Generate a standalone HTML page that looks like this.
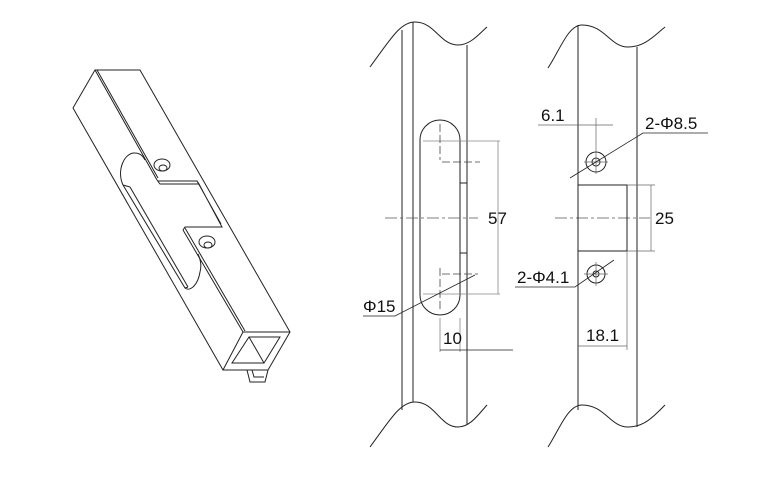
<!DOCTYPE html>
<html><head><meta charset="utf-8"><style>
html,body{margin:0;padding:0;background:#fff;}
svg{display:block}
text{font-family:"Liberation Sans",sans-serif;font-size:17px;fill:#111}
</style></head><body>
<svg width="773" height="481" viewBox="0 0 773 481" xmlns="http://www.w3.org/2000/svg">
<g fill="none" stroke="#222" stroke-width="1">
<!-- iso view -->
<path d="M73,108 L95,70 L140,70 L290,332 L268,370 L223,370 Z"/>
<path d="M95,70 L157,180 M97,70 L158,178"/>
<path d="M183,230 L243,332 M185,228 L245,331"/>
<path d="M243,332 L290,332 M243,332 L223,370"/>
<path d="M249,337 L280,337 L264,363 L232,363 Z"/>
<path d="M249,337 L264,363"/>
<path d="M247,370 L250,382 L265,382 L268,370"/>
<path d="M252,370 L254,377 L264,377"/>
<!-- slot -->
<path d="M123,185 C116,170 125,152 135,153 C140,153 143,156 145,160"/>
<path d="M123,185 L185,288 C190,292 198,285 200,272 C202,265 200,258 198,254"/>
<path d="M130,187 L188,287"/>
<path d="M123,185 L130,187 M185,288 L188,287"/>
<path d="M157,180 L160,184 L199,184 L197,181 L158,181 M199,184 L222,227 L185,227 L183,230 M197,181 L221,224"/>
<ellipse cx="162" cy="165" rx="8" ry="6"/>
<ellipse cx="163" cy="168" rx="4" ry="3"/>
<ellipse cx="207" cy="242" rx="8" ry="6"/>
<ellipse cx="208" cy="245" rx="4" ry="3"/>
<!-- middle view -->
<path d="M370,67 C390,40 400,22 415,22 C435,22 440,45 458,45 C470,45 478,35 487,27"/>
<path d="M370,447 C390,420 400,402 415,402 C435,402 440,427 458,427 C470,427 478,415 487,405"/>
<path d="M402,30 L402,410 M413,22 L413,402 M467,45 L467,425"/>
<rect x="420" y="120" width="40" height="195" rx="20" ry="20"/>
<path d="M460,183 L467,183 M460,253 L467,253"/>
<g stroke="#888" stroke-width="0.8">
<path d="M423,141 L500,141 M423,294 L500,294 M498,141 L498,294 M440,318 L440,352 M460,318 L460,352" />
<path d="M440,350 L513,350" stroke="#222"/>
</g>
<g stroke="#555" stroke-width="0.8" stroke-dasharray="12,3,3,3">
<path d="M385,218 L478,218 M555,218 L650,218"/>
</g>
<g stroke="#444" stroke-width="0.8" stroke-dasharray="8,3">
<path d="M440,124 L440,160 M440,268 L440,310 M442,162 L480,162 M442,274 L478,274"/>
</g>
<path d="M363,316 L395,316 L475,275" stroke-width="0.8"/>
<!-- right view -->
<path d="M548,68 C560,50 568,25 582,25 C605,25 610,47 628,47 C645,47 655,35 665,27"/>
<path d="M548,447 C560,428 568,405 582,405 C605,405 610,427 628,427 C645,427 655,415 665,405"/>
<path d="M578,25 L578,410 M637,47 L637,427"/>
<rect x="578" y="185" width="49" height="66"/>
<circle cx="596" cy="162" r="10"/><circle cx="596" cy="162" r="4"/>
<circle cx="596" cy="274" r="9"/><circle cx="596" cy="274" r="3"/>
<g stroke="#666" stroke-width="0.7">
<path d="M584,162 L608,162 M596,150 L596,174 M584,274 L608,274 M596,262 L596,286"/>
<path d="M596,118 L596,150 M538,125 L613,125"/>
<path d="M627,185 L655,185 M627,251 L655,251 M651,185 L651,251"/>
<path d="M627,251 L627,350 M578,346 L627,346"/>
</g>
<path d="M643,133 L708,133 M643,133 L570,178" stroke-width="0.8"/>
<path d="M515,287 L575,287 L614,260" stroke-width="0.8"/>
</g>
<text x="488" y="224">57</text>
<text x="363" y="312">Φ15</text>
<text x="443" y="344">10</text>
<text x="541" y="121">6.1</text>
<text x="645" y="129">2-Φ8.5</text>
<text x="655" y="224">25</text>
<text x="517" y="283">2-Φ4.1</text>
<text x="586" y="341">18.1</text>
</svg>
</body></html>
